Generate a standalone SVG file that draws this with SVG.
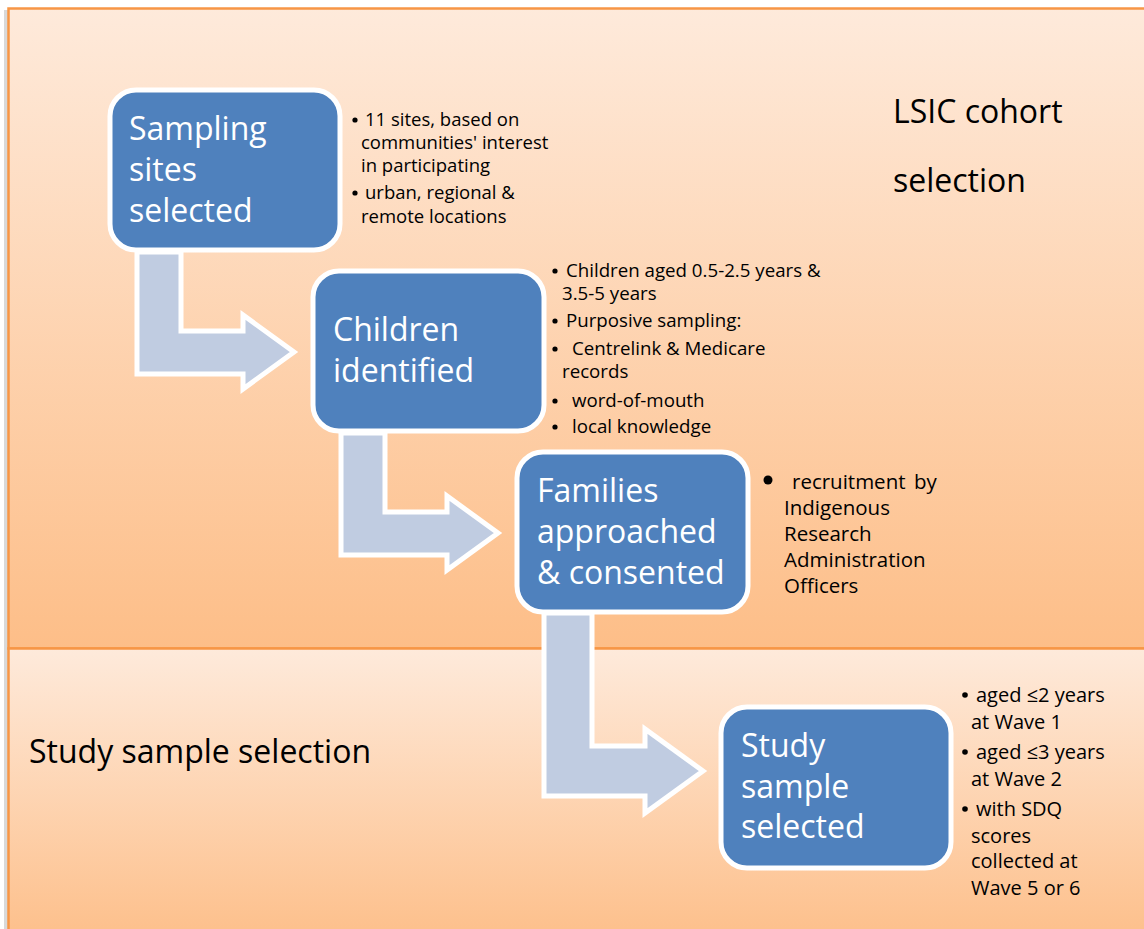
<svg xmlns="http://www.w3.org/2000/svg" width="1144" height="929" viewBox="0 0 1144 929">
<defs>
<linearGradient id="gTop" x1="0" y1="0" x2="0" y2="1">
<stop offset="0" stop-color="#FEEADB"/>
<stop offset="1" stop-color="#FDBE88"/>
</linearGradient>
<linearGradient id="gBot" x1="0" y1="0" x2="0" y2="1">
<stop offset="0" stop-color="#FEEADB"/>
<stop offset="1" stop-color="#FDBE88"/>
</linearGradient>
<style>
.panel{stroke:#F79646;stroke-width:2.5}
.box{fill:#4F81BD;stroke:#FFFFFF;stroke-width:5}
.arrow{fill:#C0CCE1;stroke:#FFFFFF;stroke-width:5;stroke-linejoin:miter}
.bt{font-family:"Open Sans","Noto Sans",sans-serif;font-size:32px;fill:#FFFFFF}
.lbl{font-family:"Open Sans","Noto Sans",sans-serif;font-size:32px;fill:#000000}
.n1{font-family:"Open Sans","Noto Sans",sans-serif;font-size:18.5px;fill:#000000}
.n2{font-family:"Open Sans","Noto Sans",sans-serif;font-size:18.7px;fill:#000000}
.n3{font-family:"Open Sans","Noto Sans",sans-serif;font-size:20.5px;fill:#000000}
.n4{font-family:"Open Sans","Noto Sans",sans-serif;font-size:20px;fill:#000000}
.bul{fill:#000000}
</style>
</defs>
<rect x="0" y="0" width="1144" height="929" fill="#FFFFFF"/>
<rect x="4" y="10" width="4" height="925" fill="#D9D9D9"/>
<g id="panel-top">
<rect class="panel" x="8.5" y="8.5" width="1150" height="640" fill="url(#gTop)"/>
</g>
<g id="panel-bottom">
<rect class="panel" x="8.5" y="648.5" width="1150" height="300" fill="url(#gBot)"/>
</g>
<text class="lbl" x="893" y="123">LSIC cohort</text>
<text class="lbl" x="893" y="192">selection</text>
<text class="lbl" x="29" y="763">Study sample selection</text>
<g id="connectors">
<path class="arrow" d="M137,252 L181,252 L181,331 L243,331 L243,315 L294,352 L243,389 L243,374 L137,374 Z"/>
<path class="arrow" d="M341,433 L385,433 L385,512 L447,512 L447,496 L498,533 L447,570 L447,555 L341,555 Z"/>
<path class="arrow" d="M544,613 L592,613 L592,746 L645,746 L645,729 L703,771 L645,813 L645,796 L544,796 Z"/>
</g>
<g id="node-sampling">
<rect class="box" x="110" y="90" width="230" height="160" rx="26"/>
<text class="bt" x="129" y="140">Sampling</text>
<text class="bt" x="129" y="181">sites</text>
<text class="bt" x="129" y="222">selected</text>
<circle class="bul" cx="355" cy="120" r="2.6"/>
<text class="n1" x="365" y="126">11 sites, based on</text>
<text class="n1" x="361" y="149">communities' interest</text>
<text class="n1" x="361" y="172">in participating</text>
<circle class="bul" cx="355" cy="193" r="2.6"/>
<text class="n1" x="365" y="199">urban, regional &amp;</text>
<text class="n1" x="361" y="223">remote locations</text>
</g>
<g id="node-children">
<rect class="box" x="313" y="271" width="231" height="160" rx="26"/>
<text class="bt" x="333" y="341">Children</text>
<text class="bt" x="333" y="382">identified</text>
<circle class="bul" cx="555" cy="271" r="2.6"/>
<text class="n2" x="566" y="277">Children aged 0.5-2.5 years &amp;</text>
<text class="n2" x="562" y="300">3.5-5 years</text>
<circle class="bul" cx="555" cy="321" r="2.6"/>
<text class="n2" x="566" y="327">Purposive sampling:</text>
<circle class="bul" cx="555" cy="349" r="2.6"/>
<text class="n2" x="572" y="355">Centrelink &amp; Medicare</text>
<text class="n2" x="562" y="378">records</text>
<circle class="bul" cx="555" cy="401" r="2.6"/>
<text class="n2" x="572" y="407">word-of-mouth</text>
<circle class="bul" cx="555" cy="427" r="2.6"/>
<text class="n2" x="572" y="433">local knowledge</text>
</g>
<g id="node-families">
<rect class="box" x="517" y="452" width="231" height="160" rx="26"/>
<text class="bt" x="537" y="502">Families</text>
<text class="bt" x="537" y="543">approached</text>
<text class="bt" x="537" y="584">&amp; consented</text>
<circle class="bul" cx="768" cy="480" r="4.5"/>
<text class="n3" x="792" y="489">recruitment</text>
<text class="n3" x="914" y="489">by</text>
<text class="n3" x="784" y="515">Indigenous</text>
<text class="n3" x="784" y="541">Research</text>
<text class="n3" x="784" y="567">Administration</text>
<text class="n3" x="784" y="593">Officers</text>
</g>
<g id="node-study">
<rect class="box" x="721" y="707" width="230" height="161" rx="26"/>
<text class="bt" x="741" y="757">Study</text>
<text class="bt" x="741" y="798">sample</text>
<text class="bt" x="741" y="838">selected</text>
<circle class="bul" cx="965" cy="695" r="2.8"/>
<text class="n4" x="976" y="702">aged ≤2 years</text>
<text class="n4" x="971" y="729">at Wave 1</text>
<circle class="bul" cx="965" cy="752" r="2.8"/>
<text class="n4" x="976" y="759">aged ≤3 years</text>
<text class="n4" x="971" y="786">at Wave 2</text>
<circle class="bul" cx="965" cy="809" r="2.8"/>
<text class="n4" x="976" y="816">with SDQ</text>
<text class="n4" x="971" y="843">scores</text>
<text class="n4" x="971" y="868">collected at</text>
<text class="n4" x="971" y="895">Wave 5 or 6</text>
</g>
</svg>
